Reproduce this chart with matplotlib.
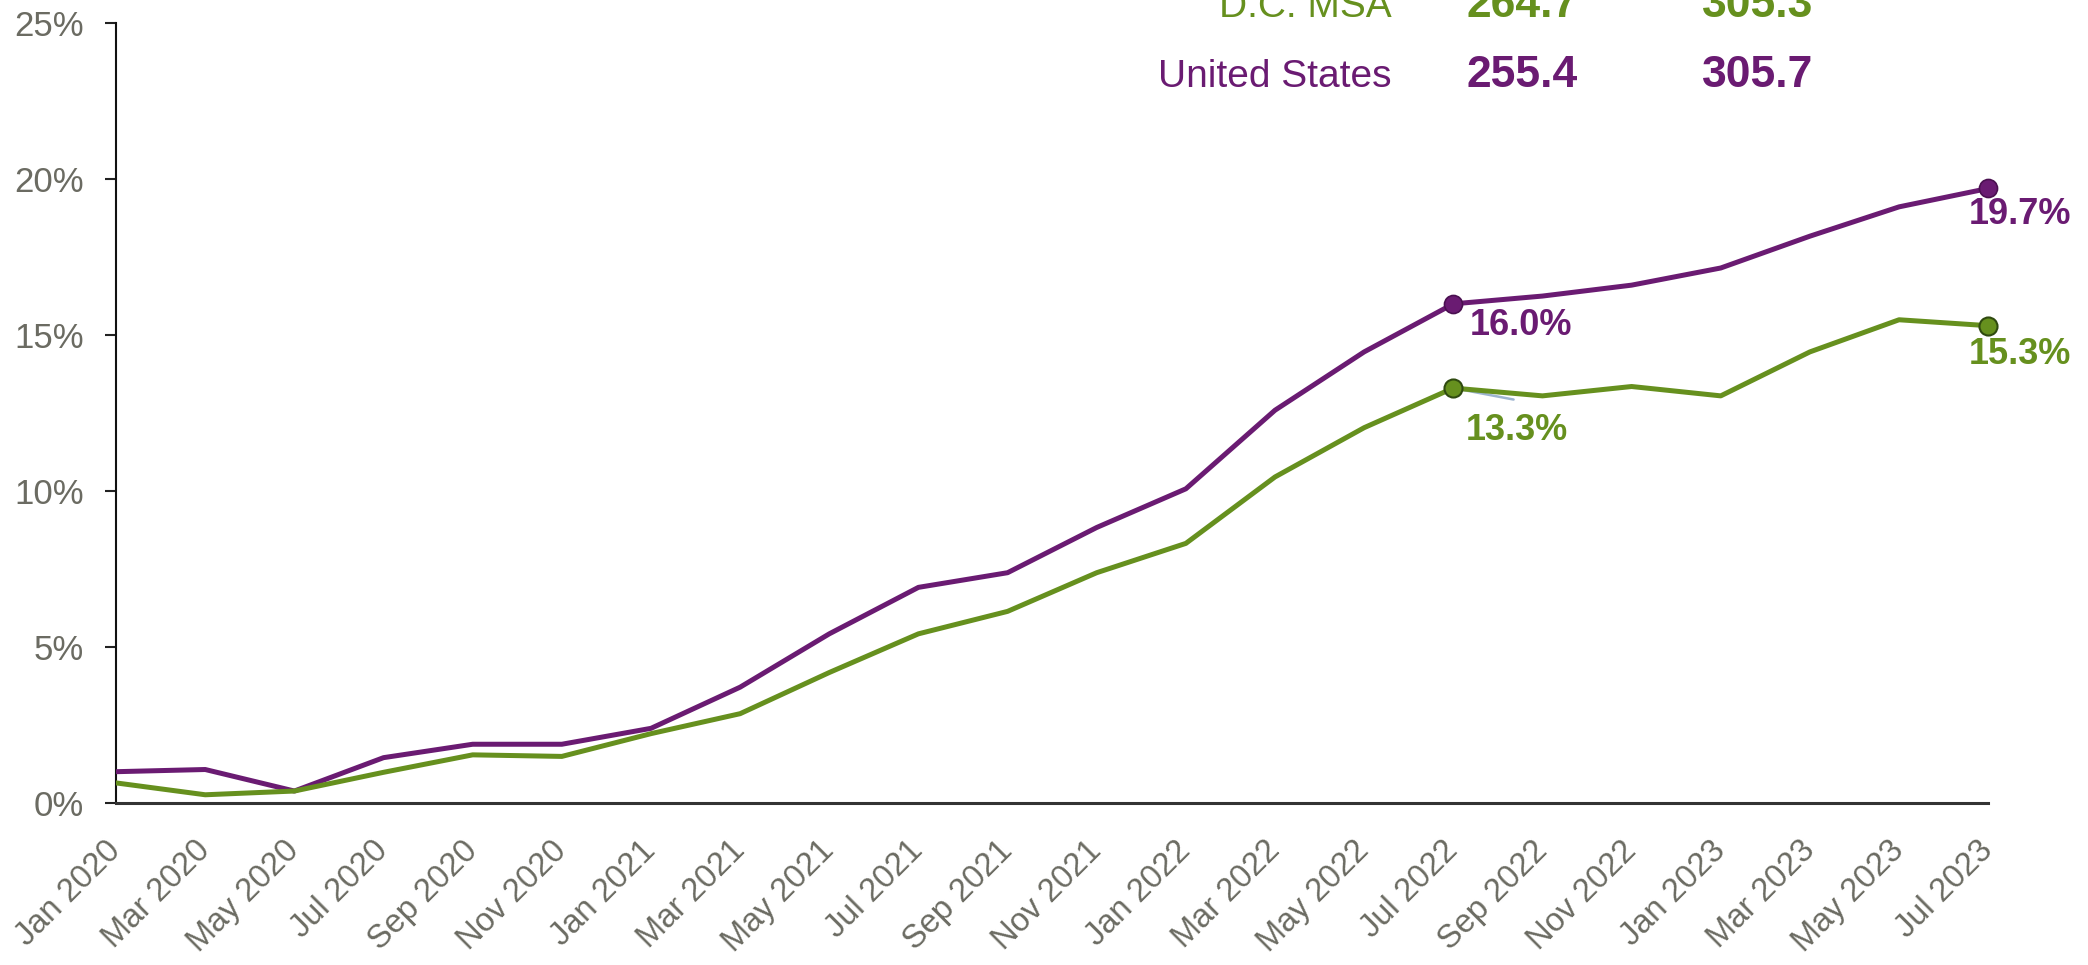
import matplotlib.pyplot as plt

plt.rcParams['font.family'] = ['Liberation Sans', 'DejaVu Sans']

# Fechas (cada dos meses)
meses = ["Jan 2020", "Mar 2020", "May 2020", "Jul 2020", "Sep 2020", "Nov 2020",
         "Jan 2021", "Mar 2021", "May 2021", "Jul 2021", "Sep 2021", "Nov 2021",
         "Jan 2022", "Mar 2022", "May 2022", "Jul 2022", "Sep 2022", "Nov 2022",
         "Jan 2023", "Mar 2023", "May 2023", "Jul 2023"]

# Crecimiento acumulado (%)
estados_unidos = [1.0, 1.07, 0.38, 1.45, 1.88, 1.88, 2.39, 3.71, 5.42, 6.91, 7.38, 8.83,
                  10.07, 12.59, 14.46, 16.0, 16.25, 16.6, 17.15, 18.17, 19.11, 19.7]
dc_msa = [0.64, 0.26, 0.38, 0.98, 1.54, 1.49, 2.22, 2.86, 4.18, 5.42, 6.14, 7.38,
          8.32, 10.45, 12.03, 13.3, 13.05, 13.35, 13.05, 14.46, 15.49, 15.3]

# Tabla de índices
filas_tabla = ["D.C. MSA", "United States"]
valor_inicial = ["264.7", "255.4"]
valor_final = ["305.3", "305.7"]

morado = "#6a1b72"
verde = "#66901e"
gris = "#6b6b62"
colores = [verde, morado]

fig = plt.figure(figsize=(20.88, 9.65), dpi=100)
ax = fig.add_axes([0.0556, 0.168, 0.8966, 0.808])

x = list(range(len(meses)))
ax.plot(x, estados_unidos, color=morado, lw=3.6, zorder=3)
ax.plot(x, dc_msa, color=verde, lw=3.6, zorder=3)

# Puntos destacados
for i in [15, 21]:
    ax.plot(x[i], estados_unidos[i], "o", ms=13, color=morado, mec="#4a1050",
            mew=1.2, zorder=4, clip_on=False)
    ax.plot(x[i], dc_msa[i], "o", ms=13, color=verde, mec="#2f4a10",
            mew=1.5, zorder=4, clip_on=False)

# Etiquetas
ax.annotate(f"{estados_unidos[15]:.1f}%", (x[15], estados_unidos[15]),
            xytext=(16, -22), textcoords="offset pixels", ha="left", va="center",
            fontsize=26, fontweight="bold", color=morado)
ax.annotate(f"{dc_msa[15]:.1f}%", (x[15], dc_msa[15]),
            xytext=(12, -42), textcoords="offset pixels", ha="left", va="center",
            fontsize=26, fontweight="bold", color=verde)
ax.annotate("", (x[15], dc_msa[15]), xytext=(63, -12), textcoords="offset pixels",
            arrowprops=dict(arrowstyle="-", color="#9db4d0", lw=1.8), zorder=2)
ax.annotate(f"{estados_unidos[21]:.1f}%", (x[21], estados_unidos[21]),
            xytext=(32, -26), textcoords="offset pixels", ha="center", va="center",
            fontsize=26, fontweight="bold", color=morado, annotation_clip=False)
ax.annotate(f"{dc_msa[21]:.1f}%", (x[21], dc_msa[21]),
            xytext=(32, -29), textcoords="offset pixels", ha="center", va="center",
            fontsize=26, fontweight="bold", color=verde, annotation_clip=False)

# Tabla superior
y_filas = [0.982, 0.9098]
for nombre, v0, v1, yy, c in zip(filas_tabla, valor_inicial, valor_final, y_filas, colores):
    fig.text(1392 / 2088, yy, nombre, ha="right", va="baseline", fontsize=28, color=c)
    fig.text(1467 / 2088, yy, v0, ha="left", va="baseline", fontsize=32,
             fontweight="bold", color=c)
    fig.text(1702 / 2088, yy, v1, ha="left", va="baseline", fontsize=32,
             fontweight="bold", color=c)

ax.set_xlim(0, len(meses) - 1)
ax.set_ylim(0, 25)
ax.set_yticks([0, 5, 10, 15, 20, 25])
ax.set_yticklabels([f"{v}%" for v in [0, 5, 10, 15, 20, 25]])
ax.set_xticks(x)
ax.set_xticklabels(meses, rotation=45, ha="right", va="center", rotation_mode="anchor")

ax.tick_params(axis="y", labelsize=25, labelcolor=gris, length=8, width=1.5,
               color="#222222", pad=15)
ax.tick_params(axis="x", labelsize=23.5, labelcolor=gris, length=0, pad=31)

for lado in ["top", "right"]:
    ax.spines[lado].set_visible(False)
ax.spines["left"].set_color("#111111")
ax.spines["left"].set_linewidth(1.5)
ax.spines["bottom"].set_color("#333333")
ax.spines["bottom"].set_linewidth(2.2)

fig.savefig("out.png", dpi=100)
